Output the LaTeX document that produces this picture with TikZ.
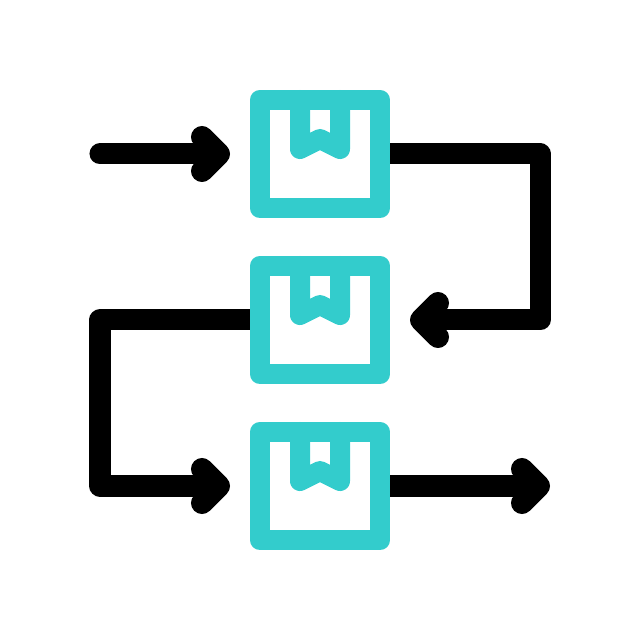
\documentclass[tikz,border=0pt]{standalone}
\definecolor{boxteal}{RGB}{51,204,204}
\tikzset{
  boxline/.style={draw=boxteal,line width=0.2cm,line join=round},
  crate/.style={boxline,rectangle,inner sep=0pt,minimum width=1.205cm,minimum height=1.08cm},
  flow/.style={draw=black,line width=0.21cm,line join=round},
  chevron/.pic={\draw[flow,line width=0.22cm,line cap=round] (-17,17) -- (0,0) -- (-17,-17);}
}

\begin{document}
\begin{tikzpicture}[x=0.01cm,y=0.01cm]
  \useasboundingbox (0,0) rectangle (640,640);
  \coordinate (inlet) at (100,486);
  \coordinate (heada) at (219,486);
  \coordinate (turnright) at (540,320);
  \coordinate (headb) at (421,320);
  \coordinate (turnleft) at (100,320);
  \coordinate (turnlow) at (100,154);
  \coordinate (headc) at (219,154);
  \coordinate (headd) at (539,154);
  \foreach \n/\y in {boxa/486,boxb/320,boxc/154} {
    \node[crate] (\n) at (320,\y) {};
    \draw[boxline,line cap=round,shift={(\n.center)}] (-20,54) -- (-20,5) -- (0,15) -- (20,5) -- (20,54);
  }
  \draw[flow,line cap=round] (inlet) -- (heada);
  \draw[flow] (boxa.east) -| (turnright) -- (headb);
  \draw[flow] (boxb.west) -- (turnleft) -- (turnlow) -- (headc);
  \draw[flow] (boxc.east) -- (headd);
  \pic at (heada) {chevron};
  \pic[rotate=180] at (headb) {chevron};
  \pic at (headc) {chevron};
  \pic at (headd) {chevron};
\end{tikzpicture}
\end{document}
